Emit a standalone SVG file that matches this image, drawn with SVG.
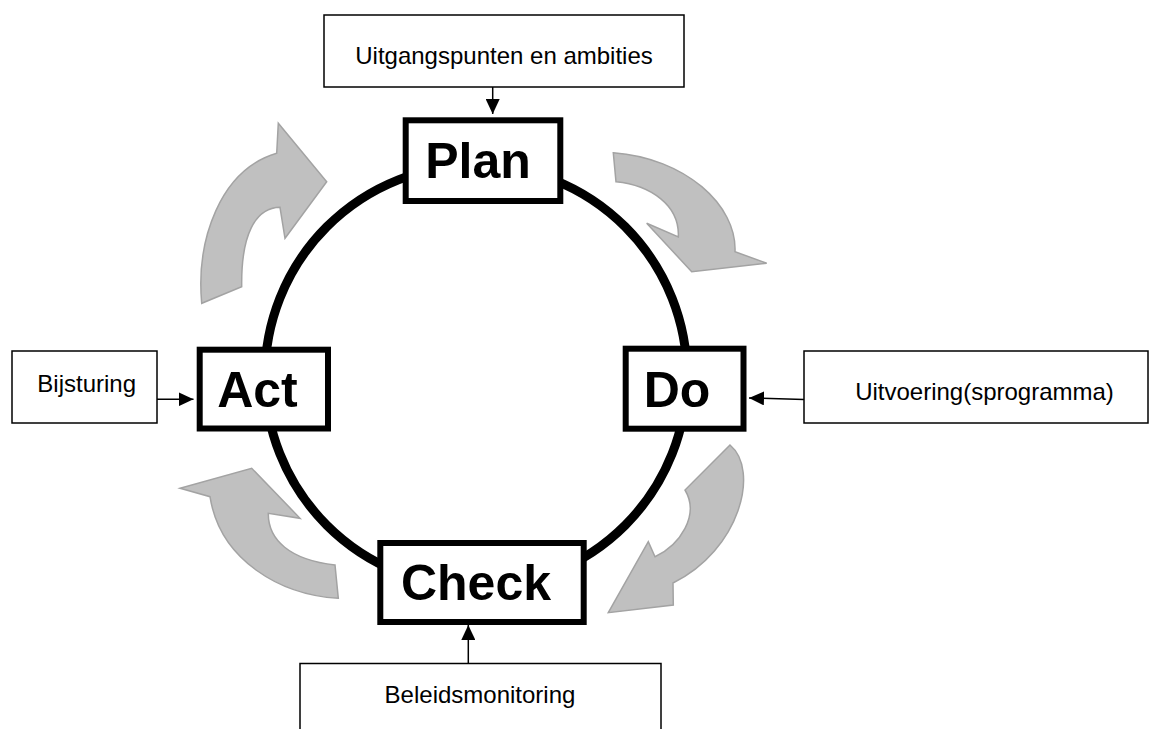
<svg xmlns="http://www.w3.org/2000/svg" width="1157" height="729" viewBox="0 0 1157 729">
<style>
.bg{fill:#ffffff}
.cyc{fill:#c0c0c0;stroke:#a3a3a3;stroke-width:1.5;stroke-linejoin:miter}
.ring{fill:none;stroke:#000;stroke-width:9}
.thick{fill:#fff;stroke:#000;stroke-width:6}
.thin{fill:#fff;stroke:#000;stroke-width:1.5}
.big{font-family:"Liberation Sans",Arial,sans-serif;font-weight:bold;font-size:50px;fill:#000;text-anchor:middle}
.lbl{font-family:"Liberation Sans",Arial,sans-serif;font-size:24px;fill:#000;text-anchor:middle}
.con{stroke:#000;stroke-width:1.5;fill:none;marker-end:url(#ah)}
</style>
<defs>
<marker id="ah" viewBox="0 0 15 14" refX="15" refY="7" markerWidth="15" markerHeight="14" markerUnits="userSpaceOnUse" orient="auto">
<path d="M0,0 L15,7 L0,14 Z" fill="#000"/>
</marker>
</defs>
<rect class="bg" x="0" y="0" width="1157" height="729"/>

<g id="cycle-arrows">
<path class="cyc" d="M201.7,303.3 C196,240 220,170 276.7,153.3 L278.3,123.3 L326.7,181.7 L285,238.3 L280,207.3 C255,208 241,235 241.7,286.7 Z"/>
<path class="cyc" d="M613.3,152.7 C685,158 737,205 735,251.7 L766.7,263.3 L691.7,271.7 L646.7,223.3 L678.3,237 C680,205 650,185 616,181.7 Z"/>
<path class="cyc" d="M730,445 C760,470 740,550 673,583 L673.3,605 L608.3,612.7 L648.3,541.7 L655,556.7 C680,545 700,515 685,490 Z"/>
<path class="cyc" d="M338.3,598.3 C280,595 220,560 210,496.7 L180,488.3 L251.7,468.3 L300,518.3 L268.3,513.3 C268,540 290,560 335,565 Z"/>
</g>

<g id="cycle-ring">
<circle class="ring" cx="476" cy="376" r="211"/>
</g>

<g id="connectors">
<line class="con" x1="492.7" y1="87" x2="492.7" y2="114"/>
<line class="con" x1="157" y1="399.3" x2="193.5" y2="399.3"/>
<line class="con" x1="804" y1="399.5" x2="749" y2="398"/>
<line class="con" x1="468.3" y1="663.5" x2="468.3" y2="625"/>
</g>

<g id="node-plan">
<rect class="thick" x="405.7" y="120.3" width="154.6" height="80.7"/>
<text class="big" x="478" y="178">Plan</text>
</g>
<g id="node-do">
<rect class="thick" x="625.7" y="348.7" width="117.8" height="80"/>
<text class="big" x="677" y="406.5">Do</text>
</g>
<g id="node-check">
<rect class="thick" x="380.3" y="543" width="203.4" height="79"/>
<text class="big" x="476" y="600">Check</text>
</g>
<g id="node-act">
<rect class="thick" x="199.7" y="349.7" width="128.3" height="78.8"/>
<text class="big" x="257.5" y="406.5">Act</text>
</g>

<g id="node-uitgangspunten">
<rect class="thin" x="324" y="15" width="360" height="72"/>
<text class="lbl" x="504" y="63.5">Uitgangspunten en ambities</text>
</g>
<g id="node-bijsturing">
<rect class="thin" x="12" y="351" width="145" height="72"/>
<text class="lbl" x="86.7" y="391.7">Bijsturing</text>
</g>
<g id="node-uitvoering">
<rect class="thin" x="804" y="351" width="344" height="72"/>
<text class="lbl" x="984.5" y="399.5">Uitvoering(sprogramma)</text>
</g>
<g id="node-beleidsmonitoring">
<rect class="thin" x="300" y="663.5" width="361" height="80"/>
<text class="lbl" x="480" y="703">Beleidsmonitoring</text>
</g>
</svg>
